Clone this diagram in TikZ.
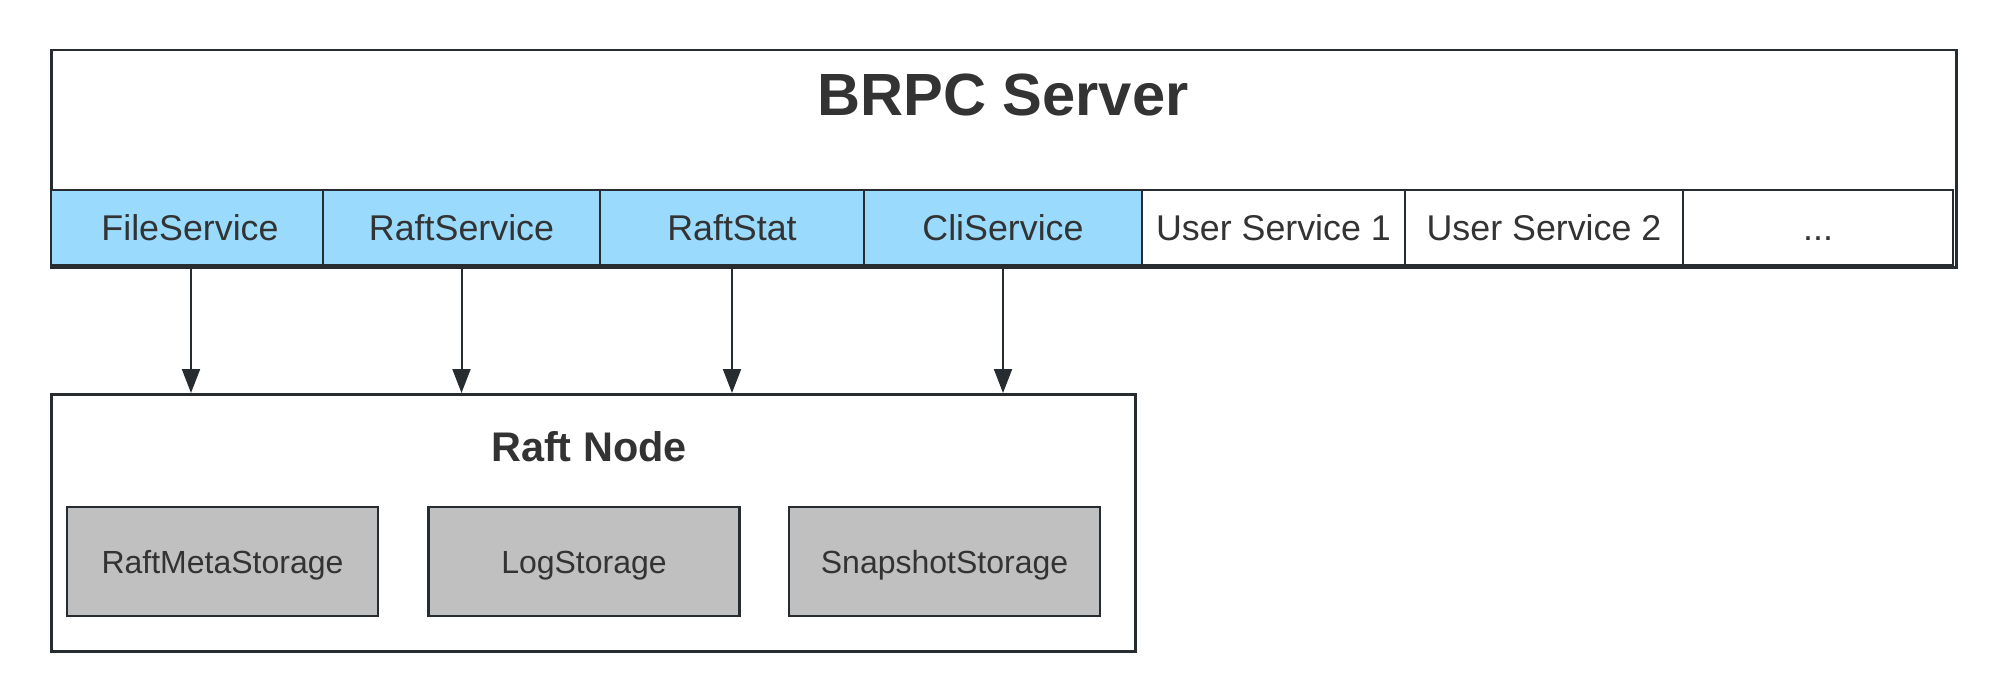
\documentclass[tikz,border=0pt]{standalone}
\usepackage{fontspec}
\setmainfont{Liberation Sans}
\usetikzlibrary{arrows.meta}
\definecolor{strk}{HTML}{272C30}
\definecolor{txt}{HTML}{333333}
\definecolor{svcblue}{HTML}{99DAFD}
\definecolor{stgray}{HTML}{C0C0C0}
\tikzset{
  box/.style={draw=strk, line width=1.25pt, inner sep=0pt, text=txt},
  cell/.style={box, minimum height=37.5pt, font=\fontsize{17.9}{20}\selectfont, text height=12.8pt, text depth=0pt},
  bluecell/.style={cell, fill=svcblue},
  whitecell/.style={cell, fill=white},
  storebox/.style={box, fill=stgray, minimum width=155.5pt, minimum height=54.5pt, font=\fontsize{16}{19}\selectfont, text height=11.5pt, text depth=0pt},
  conn/.style={draw=strk, line width=1pt, -{Triangle[length=12pt,width=9pt]}},
  ttl/.style={text=txt, inner sep=0pt, font=\bfseries\fontsize{29.8}{34}\selectfont, text height=21.3pt, text depth=0pt},
  subttl/.style={text=txt, inner sep=0pt, font=\bfseries\fontsize{20.7}{24}\selectfont, text height=14.8pt, text depth=0pt},
}
\begin{document}
\begin{tikzpicture}[x=0.5pt,y=-0.5pt]
\useasboundingbox (0,0) rectangle (2006,700);
% BRPC server outer box
\node[box, minimum width=952.5pt, minimum height=108.5pt, anchor=north west] (srv) at (50,49) {};
\node[ttl] (srvt) at (1003,94) {BRPC Server};
% service cells
\node[bluecell, minimum width=136pt] (fs) at (187,227.5) {\hspace{3pt}FileService};
\node[bluecell, minimum width=138.5pt] (rs) at (461.5,227.5) {RaftService};
\node[bluecell, minimum width=132pt] (st) at (732,227.5) {RaftStat};
\node[bluecell, minimum width=139pt] (cs) at (1003,227.5) {CliService};
\node[whitecell, minimum width=131.5pt] (us1) at (1273.5,227.5) {User Service 1};
\node[whitecell, minimum width=139pt] (us2) at (1544,227.5) {User Service 2};
\node[whitecell, minimum width=135pt] (dots) at (1818,227.5) {...};
% Raft node
\node[box, minimum width=542pt, minimum height=128.5pt, anchor=north west] (rn) at (50,393) {};
\node[subttl] (rnt) at (589,447) {Raft Node};
\node[storebox] (meta) at (222.5,561.5) {RaftMetaStorage};
\node[storebox] (log) at (584,561.5) {LogStorage};
\node[storebox] (snap) at (944.5,561.5) {SnapshotStorage};
% connectors
\draw[conn] ([xshift=2pt]fs.south) -- ([xshift=2pt]fs.south |- rn.north);
\draw[conn] (rs.south) -- (rs.south |- rn.north);
\draw[conn] (st.south) -- (st.south |- rn.north);
\draw[conn] (cs.south) -- (cs.south |- rn.north);
\end{tikzpicture}
\end{document}
